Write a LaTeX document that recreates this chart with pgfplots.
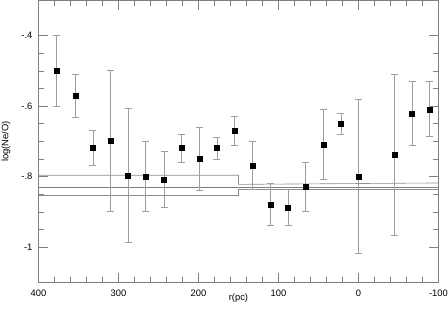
\documentclass[border=0pt]{standalone}
\usepackage{fontspec}
\setmainfont{Liberation Sans}
\usepackage{pgfplots}
\usepackage{pgfplotstable}
\pgfplotsset{compat=1.18}
\pgfplotstableread{
r v e
377.5 -0.500 0.10
354 -0.571 0.060
332 -0.719 0.050
310 -0.699 0.200
288 -0.797 0.190
266 -0.800 0.100
243 -0.808 0.080
221 -0.719 0.040
199 -0.749 0.090
177 -0.719 0.031
155 -0.670 0.041
132.5 -0.769 0.068
110 -0.879 0.060
88 -0.888 0.051
66 -0.829 0.070
44 -0.709 0.100
22 -0.650 0.030
0 -0.799 0.219
-45 -0.739 0.228
-67 -0.621 0.090
-89 -0.609 0.078
}\datatable
\begin{document}
\begin{tikzpicture}
\useasboundingbox (-38.5bp,-30.7bp) rectangle (409.5bp,282.3bp);
\begin{axis}[
 at={(0,0)}, anchor=south west, scale only axis, width=400bp, height=281.8bp,
 x dir=reverse, xmin=-100, xmax=400, ymin=-1.1, ymax=-0.3,
 xtick={-100,0,100,200,300,400}, xticklabels={-100,0,100,200,300,400},
 ytick={-1,-0.8,-0.6,-0.4}, yticklabels={-1,-.8,-.6,-.4},
 minor x tick num=4, minor y tick num=3,
 tick align=inside, major tick length=9.7bp, minor tick length=5.7bp,
 axis line style={black!50, line width=0.6bp},
 tick style={black!50, line width=0.6bp},
 tick label style={font=\fontsize{9.4}{11}\selectfont, black},
 xticklabel style={yshift=-3.8bp},
 yticklabel style={xshift=-2.6bp},
 xlabel={r(pc)}, ylabel={log(Ne/O)},
 every axis x label/.style={at={(axis description cs:0.5,0)}, anchor=center, yshift=-16bp, font=\fontsize{9.4}{11}\selectfont},
 every axis y label/.style={at={(rel axis cs:1,0.5)}, xshift=-432.5bp, anchor=center, rotate=90, font=\fontsize{9.4}{11}\selectfont},
]
\addplot[black!45, line width=0.6bp, sharp plot] coordinates {(400,-0.796) (150,-0.796) (150,-0.822) (-100,-0.818)};
\addplot[black!50, line width=0.6bp, sharp plot] coordinates {(400,-0.829) (-100,-0.829)};
\addplot[black!45, line width=0.6bp, sharp plot] coordinates {(400,-0.854) (150,-0.854) (150,-0.837) (-100,-0.837)};
\addplot[only marks, mark=square*, mark size=2.5bp, black,
  error bars/.cd, y dir=both, y explicit,
  error bar style={black!38, line width=0.75bp},
  error mark options={rotate=90, black!38, line width=0.75bp, mark size=3.5bp}]
  table[x=r, y=v, y error=e] {\datatable};
\end{axis}
\end{tikzpicture}
\end{document}
